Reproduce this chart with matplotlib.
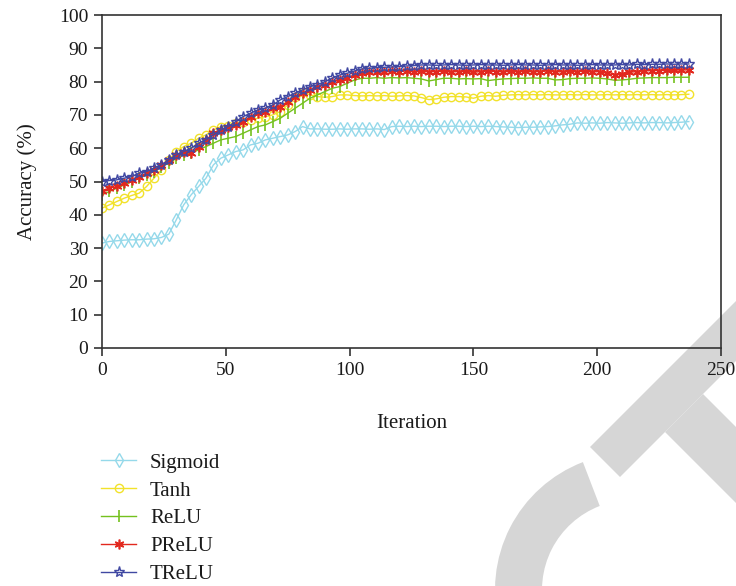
import matplotlib
matplotlib.use("Agg")
import matplotlib.pyplot as plt
from matplotlib import patches, transforms

# ---------------- data ----------------
iterations = list(range(0, 240, 3))

sigmoid = [31.5, 32.0, 32.2, 32.4, 32.5, 32.5, 32.7, 32.8, 33.2, 34.2,
           38.5, 43.0, 46.0, 48.5, 51.0, 55.0, 57.0, 58.0, 59.0, 59.5,
           61.0, 61.5, 62.5, 63.0, 63.5, 64.0, 65.0, 66.5, 65.8, 65.8,
           65.7, 65.7, 65.8, 65.7, 65.8, 65.8, 65.7, 65.8, 65.6, 66.5,
           66.6, 66.5, 66.6, 66.5, 66.6, 66.6, 66.5, 66.6, 66.6, 66.5,
           66.6, 66.5, 66.6, 66.5, 66.4, 66.3, 66.2, 66.3, 66.3, 66.4,
           66.5, 66.7, 67.0, 67.2, 67.6, 67.5, 67.6, 67.5, 67.7, 67.6,
           67.5, 67.6, 67.7, 67.6, 67.7, 67.7, 67.6, 67.7, 67.8, 68.0]

tanh = [42.0, 43.0, 44.0, 45.0, 45.8, 46.5, 48.5, 51.0, 53.5, 56.5,
        59.0, 60.5, 61.5, 63.0, 64.0, 65.5, 66.5, 66.8, 67.5, 68.0,
        68.5, 69.0, 69.5, 70.0, 71.0, 73.0, 75.5, 77.0, 76.0, 75.5,
        75.3, 75.5, 76.0, 76.0, 75.8, 75.7, 75.8, 75.7, 75.8, 75.6,
        75.7, 75.8, 75.7, 75.2, 74.6, 74.8, 75.3, 75.5, 75.5, 75.4,
        75.0, 75.6, 75.8, 75.6, 75.9, 76.0, 76.1, 76.0, 76.1, 76.0,
        76.1, 76.0, 76.0, 76.1, 76.0, 76.1, 76.0, 76.0, 76.1, 76.0,
        76.1, 76.0, 76.1, 76.0, 76.1, 76.0, 76.1, 76.0, 76.1, 76.2]

relu = [46.0, 47.0, 48.0, 49.0, 50.0, 51.0, 52.0, 53.0, 54.5, 55.5,
        57.0, 58.0, 58.5, 59.5, 60.5, 61.5, 62.5, 63.0, 63.5, 64.5,
        65.5, 66.5, 67.0, 68.0, 69.0, 70.5, 72.0, 73.5, 75.0, 76.0,
        77.0, 78.0, 78.5, 79.5, 80.5, 81.0, 81.0, 81.2, 81.0, 81.2,
        81.1, 81.2, 81.0, 80.8, 80.2, 80.6, 81.0, 81.0, 80.8, 80.9,
        80.8, 80.9, 80.3, 80.6, 80.8, 80.9, 81.0, 81.0, 81.1, 81.0,
        81.0, 80.5, 80.6, 80.9, 81.0, 81.0, 81.1, 81.0, 80.8, 80.4,
        80.5, 80.7, 81.0, 81.1, 81.2, 81.2, 81.2, 81.3, 81.3, 81.3]

prelu = [47.0, 48.0, 48.5, 49.5, 50.5, 51.5, 52.5, 53.5, 55.0, 56.5,
         58.0, 59.0, 58.5, 60.5, 62.5, 64.5, 65.5, 66.5, 67.0, 68.0,
         69.5, 70.5, 71.0, 72.0, 72.5, 74.0, 75.5, 76.5, 77.5, 78.5,
         79.0, 80.0, 80.5, 81.0, 82.0, 82.5, 83.0, 83.0, 82.8, 83.2,
         83.0, 83.2, 83.0, 83.1, 82.9, 83.0, 83.1, 82.9, 83.0, 83.1,
         82.8, 83.0, 83.2, 83.0, 82.9, 83.1, 83.0, 83.1, 82.9, 83.0,
         83.2, 83.0, 82.9, 83.1, 83.0, 83.1, 82.9, 83.0, 82.5, 82.0,
         82.3, 82.8, 83.0, 83.2, 83.3, 83.3, 83.4, 83.4, 83.5, 83.5]

trelu = [50.0, 50.3, 50.5, 51.0, 51.5, 52.5, 53.0, 54.0, 55.0, 56.5,
         58.0, 59.0, 60.0, 61.5, 62.5, 64.0, 65.5, 66.5, 68.0, 69.5,
         70.5, 71.5, 72.0, 73.0, 74.5, 75.5, 76.5, 77.5, 78.5, 79.0,
         80.0, 81.0, 82.0, 82.5, 83.2, 83.8, 84.0, 84.2, 84.3, 84.4,
         84.5, 84.7, 84.8, 85.0, 85.0, 84.9, 85.0, 85.1, 85.0, 84.9,
         85.0, 85.1, 85.0, 85.0, 84.9, 85.0, 85.1, 85.0, 85.0, 84.9,
         85.0, 85.1, 85.0, 85.0, 84.9, 85.0, 85.1, 85.0, 85.0, 85.0,
         85.1, 85.0, 85.2, 85.1, 85.2, 85.2, 85.3, 85.2, 85.3, 85.3]

labels = ["Sigmoid", "Tanh", "ReLU", "PReLU", "TReLU"]
x_ticks = [0, 50, 100, 150, 200, 250]
y_ticks = [0, 10, 20, 30, 40, 50, 60, 70, 80, 90, 100]

# ---------------- style ----------------
plt.rcParams['font.family'] = ['Liberation Serif', 'DejaVu Serif']
W, H = 736, 586
fig = plt.figure(figsize=(W / 100, H / 100), dpi=100)

# watermark (pixel coordinates, origin bottom-left)
idt = transforms.IdentityTransform()
gray = "#d6d6d6"
def P(x, y):
    return (x, H - y)
bar = patches.Polygon([P(590, 447), P(620, 477), P(800, 297), P(770, 267)],
                      closed=True, transform=idt, facecolor=gray,
                      edgecolor='none', zorder=-5)
stem = patches.Polygon([P(665, 432), P(703, 394), P(850, 541), P(812, 579)],
                       closed=True, transform=idt, facecolor=gray,
                       edgecolor='none', zorder=-5)
arc = patches.Wedge(P(632, 590), 137, 111, 195, width=47, transform=idt,
                    facecolor=gray, edgecolor='none', zorder=-5)
for p in (bar, stem, arc):
    fig.patches.append(p)

ax = fig.add_axes([102 / W, 1 - 348 / H, (721 - 102) / W, (348 - 15) / H])
ax.set_facecolor('none')

styles = [
    dict(color="#95d9ea", marker="d", ms=7.5, mfc="none", mew=1.0),
    dict(color="#f2e22a", marker="o", ms=6.0, mfc="none", mew=1.0),
    dict(color="#74c11e", marker="|", ms=9.0, mew=1.2),
    dict(color="#e2281e", marker=(6, 2, 0), ms=7.0, mew=1.2),
    dict(color="#4048a2", marker="*", ms=8.0, mfc="none", mew=1.0),
]
series = [sigmoid, tanh, relu, prelu, trelu]
for vals, lab, st in zip(series, labels, styles):
    ax.plot(iterations, vals, lw=1.0, label=lab, **st)

ax.set_xlim(0, 250)
ax.set_ylim(0, 100)
ax.set_xticks(x_ticks)
ax.set_yticks(y_ticks)
ax.tick_params(direction='out', length=6, width=1.2, color="#333333",
               labelsize=14, labelcolor="#1a1a1a", pad=4)
for s in ax.spines.values():
    s.set_color("#333333")
    s.set_linewidth(1.2)

ax.set_xlabel("Iteration", fontsize=15, color="#1a1a1a", labelpad=25)
ax.set_ylabel("Accuracy (%)", fontsize=15, color="#1a1a1a", labelpad=16)

leg = fig.legend(loc='upper left', bbox_to_anchor=(101 / W, 1 - 453 / H),
                 frameon=False, fontsize=15, handlelength=1.7,
                 handletextpad=0.65, labelspacing=0.4, borderaxespad=0,
                 borderpad=0)
for t in leg.get_texts():
    t.set_color("#1a1a1a")

fig.savefig("out.png", dpi=100)
